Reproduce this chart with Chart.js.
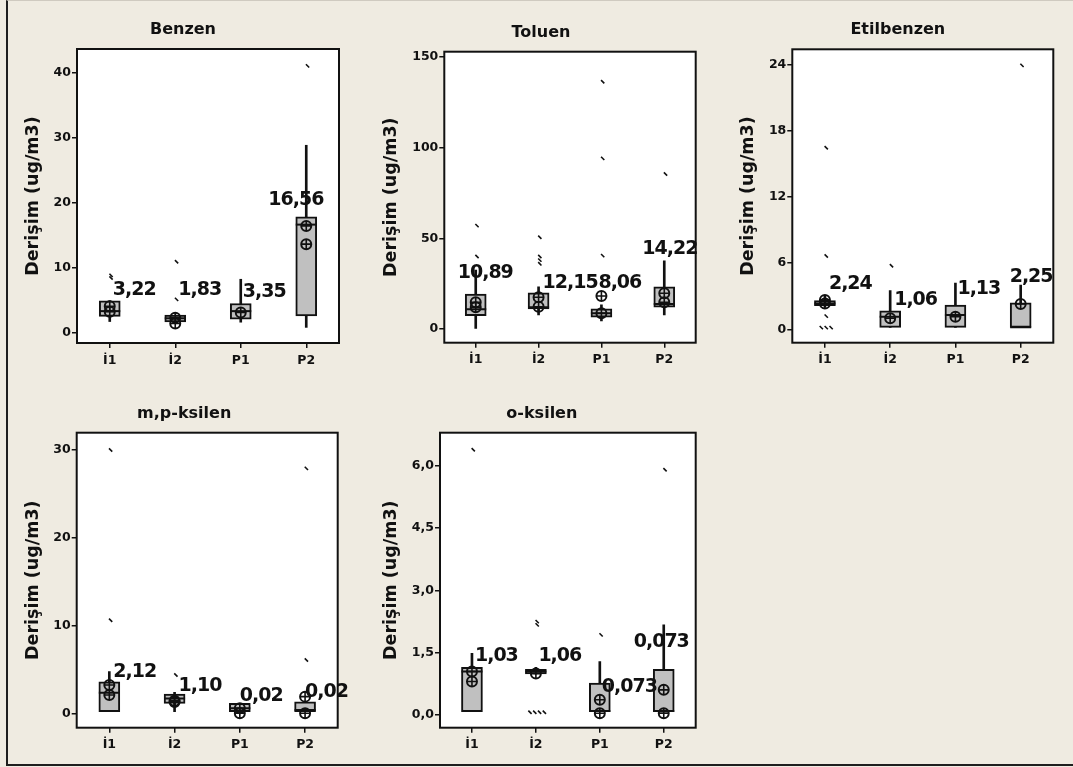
<!DOCTYPE html>
<html><head><meta charset="utf-8">
<script src="https://cdn.jsdelivr.net/npm/chart.js@4"></script>
<style>
html,body{margin:0;padding:0;background:#efebe1;width:1073px;height:767px;overflow:hidden;position:relative}
#frame{position:absolute;left:6px;top:0;width:1067px;height:766px;border-left:2px solid #1e1e1e;border-bottom:2px solid #1e1e1e;border-top:1px solid #cfcac0;box-sizing:border-box}
canvas{position:absolute}
</style></head><body><div id="frame"></div>
<script>
// ---------- DATA ----------
const categories = ['İ1', 'İ2', 'P1', 'P2'];

const benzenQ1 = [2.6, 1.75, 2.15, 2.66];
const benzenQ3 = [4.97, 2.8, 4.57, 17.9];
const benzenMedian = [3.4, 2.3, 3.4, 16.7];
const benzenWhiskerLow = [1.8, 1.5, 1.7, 0.9];
const benzenWhiskerHigh = [5.0, 2.8, 8.3, 28.9];
const benzenMeans = [[4.15, 3.3], [2.4, 1.5], [3.2], [16.5, 13.7]];
const benzenOutliers = [[8.9, 8.5], [11.0, 5.2], [], [41.1]];
const benzenTicks = [0, 10, 20, 30, 40];
const benzenLabels = ['3,22', '1,83', '3,35', '16,56'];

const toluenQ1 = [7.5, 11.2, 6.6, 12.1];
const toluenQ3 = [19.3, 20.1, 11.2, 23.4];
const toluenMedian = [11.0, 12.1, 8.8, 13.9];
const toluenWhiskerLow = [0, 7.9, 4.6, 7.9];
const toluenWhiskerHigh = [32.6, 23.4, 13.4, 37.6];
const toluenMeans = [[14.8, 12.1], [17.6, 12.4], [18.3, 8.8], [19.8, 14.8]];
const toluenOutliers = [[57, 40], [50.6, 40, 38, 36], [136.2, 94, 40.5], [85.4]];
const toluenTicks = [0, 50, 100, 150];
const toluenLabels = ['10,89', '12,15', '8,06', '14,22'];

const etilbenzenQ1 = [2.14, 0.18, 0.18, 0.18];
const etilbenzenQ3 = [2.6, 1.68, 2.2, 2.41];
const etilbenzenMedian = [2.35, 1.14, 1.3, 0.18];
const etilbenzenWhiskerLow = [2.0, 0.18, 0.18, 0.18];
const etilbenzenWhiskerHigh = [3.0, 3.5, 4.2, 4.0];
const etilbenzenMeans = [[2.65, 2.35], [1.0], [1.14], [2.29]];
const etilbenzenOutliers = [[16.45, 6.64, 1.2, 0.15, 0.15, 0.15], [5.76], [], [23.9]];
const etilbenzenTicks = [0, 6, 12, 18, 24];
const etilbenzenLabels = ['2,24', '1,06', '1,13', '2,25'];

const mpKsilenQ1 = [0.18, 1.14, 0.18, 0.18];
const mpKsilenQ3 = [3.6, 2.2, 1.14, 1.32];
const mpKsilenMedian = [2.35, 1.7, 0.57, 0.38];
const mpKsilenWhiskerLow = [0.18, 0.18, 0.18, 0.18];
const mpKsilenWhiskerHigh = [4.74, 2.4, 1.14, 1.32];
const mpKsilenMeans = [[3.22, 2.08], [1.44, 1.3], [0.57, 0.0], [1.9, 0.0]];
const mpKsilenOutliers = [[30.0, 10.6], [4.36], [], [27.9, 6.07]];
const mpKsilenTicks = [0, 10, 20, 30];
const mpKsilenLabels = ['2,12', '1,10', '0,02', '0,02'];

const oKsilenQ1 = [0.087, 0.99, 0.087, 0.087];
const oKsilenQ3 = [1.15, 1.1, 0.77, 1.1];
const oKsilenMedian = [1.05, 1.05, 0.1, 0.1];
const oKsilenWhiskerLow = [0.087, 0.99, 0.087, 0.087];
const oKsilenWhiskerHigh = [1.49, 1.15, 1.29, 2.17];
const oKsilenMeans = [[1.05, 0.81], [1.0], [0.37, 0.048], [0.61, 0.05]];
const oKsilenOutliers = [[6.38], [2.25, 2.17, 0.072, 0.072, 0.072, 0.072], [1.93], [5.9]];
const oKsilenTicks = [0, 1.5, 3, 4.5, 6];
const oKsilenLabels = ['1,03', '1,06', '0,073', '0,073'];

const yAxisTitle = 'Derişim (ug/m3)';

// ---------- LAYOUT ----------
const panels = [
  {title: 'Benzen', canvas: [0, 0, 360, 375], area: [77, 49, 339, 343], yMin: -1.5, yMax: 43.7, dec: 0,
   q1: benzenQ1, q3: benzenQ3, med: benzenMedian, lo: benzenWhiskerLow, hi: benzenWhiskerHigh,
   means: benzenMeans, out: benzenOutliers, ticks: benzenTicks, labels: benzenLabels,
   labelAt: [[3, 6.6], [3, 6.6], [2, 6.3], [-38, 20.5]], titleDx: -25, yTitleDx: -44},
  {title: 'Toluen', canvas: [360, 0, 360, 375], area: [84.3, 51.7, 335.7, 342.7], yMin: -7.4, yMax: 152.7, dec: 0,
   q1: toluenQ1, q3: toluenQ3, med: toluenMedian, lo: toluenWhiskerLow, hi: toluenWhiskerHigh,
   means: toluenMeans, out: toluenOutliers, ticks: toluenTicks, labels: toluenLabels,
   labelAt: [[-18, 30.8], [4, 25.3], [-3, 25.3], [-22, 44]], titleDx: -29, yTitleDx: -53},
  {title: 'Etilbenzen', canvas: [720, 0, 353, 375], area: [72.3, 49.3, 333.3, 342.7], yMin: -1.21, yMax: 25.36, dec: 0,
   q1: etilbenzenQ1, q3: etilbenzenQ3, med: etilbenzenMedian, lo: etilbenzenWhiskerLow, hi: etilbenzenWhiskerHigh,
   means: etilbenzenMeans, out: etilbenzenOutliers, ticks: etilbenzenTicks, labels: etilbenzenLabels,
   labelAt: [[4, 4.07], [4, 2.65], [2, 3.62], [-11, 4.7]], titleDx: -25, yTitleDx: -44},
  {title: 'm,p-ksilen', canvas: [0, 375, 360, 392], area: [76.7, 57.7, 337.7, 352.7], yMin: -1.64, yMax: 31.97, dec: 0,
   q1: mpKsilenQ1, q3: mpKsilenQ3, med: mpKsilenMedian, lo: mpKsilenWhiskerLow, hi: mpKsilenWhiskerHigh,
   means: mpKsilenMeans, out: mpKsilenOutliers, ticks: mpKsilenTicks, labels: mpKsilenLabels,
   labelAt: [[4, 4.67], [4, 3.1], [0, 1.97], [0, 2.46]], titleDx: -23, yTitleDx: -43.5},
  {title: 'o-ksilen', canvas: [360, 375, 360, 392], area: [80, 57.7, 335.7, 352.7], yMin: -0.3, yMax: 6.79, dec: 1,
   q1: oKsilenQ1, q3: oKsilenQ3, med: oKsilenMedian, lo: oKsilenWhiskerLow, hi: oKsilenWhiskerHigh,
   means: oKsilenMeans, out: oKsilenOutliers, ticks: oKsilenTicks, labels: oKsilenLabels,
   labelAt: [[3, 1.43], [2.5, 1.43], [2, 0.67], [-30, 1.77]], titleDx: -26, yTitleDx: -49}
];

const INK = '#111111';
Chart.defaults.font.family = "'DejaVu Sans', Verdana, sans-serif";
Chart.defaults.font.weight = 'bold';
Chart.defaults.color = INK;

function meanPoints(lists) {
  const pts = [];
  lists.forEach((vals, i) => vals.forEach(v => pts.push({x: i, y: v})));
  return pts;
}
function outlierPoints(lists) {
  const pts = [];
  lists.forEach((vals, i) => {
    const count = {};
    vals.forEach(v => { count[v] = (count[v] || 0) + 1; });
    const seen = {};
    vals.forEach(v => {
      const k = seen[v] || 0; seen[v] = k + 1;
      pts.push({x: i + 0.02 + (k - (count[v] - 1) / 2) * 0.075, y: v});
    });
  });
  return pts;
}

const panelPlugin = {
  id: 'panelDeco',
  beforeDraw(chart) {
    const {ctx, chartArea: a} = chart;
    ctx.save();
    ctx.fillStyle = '#ffffff';
    ctx.fillRect(a.left, a.top, a.right - a.left, a.bottom - a.top);
    ctx.restore();
  },
  afterDraw(chart) {
    const p = chart.options.plugins.panelDeco;
    const {ctx, chartArea: a} = chart;
    const xs = chart.scales.x, ys = chart.scales.y;
    ctx.save();
    ctx.strokeStyle = INK;
    ctx.lineWidth = 2;
    ctx.strokeRect(a.left, a.top, a.right - a.left, a.bottom - a.top);
    ctx.fillStyle = INK;
    // panel title
    ctx.font = "bold 16px 'DejaVu Sans'";
    ctx.textAlign = 'center';
    ctx.textBaseline = 'middle';
    ctx.fillText(p.title, (a.left + a.right) / 2 + p.titleDx, a.top - 19);
    // y axis title
    ctx.save();
    ctx.translate(a.left + p.yTitleDx, (a.top + a.bottom) / 2);
    ctx.rotate(-Math.PI / 2);
    ctx.font = "bold 17.5px 'DejaVu Sans'";
    ctx.fillText(yAxisTitle, 0, 0);
    ctx.restore();
    // value labels
    const hasLS = 'letterSpacing' in ctx;
    ctx.font = hasLS ? "bold 19px 'DejaVu Sans'" : "bold 17px 'DejaVu Sans'";
    if (hasLS) ctx.letterSpacing = '-1px';
    ctx.textAlign = 'left';
    p.labels.forEach((t, i) => {
      const [dx, v] = p.labelAt[i];
      ctx.fillText(t, xs.getPixelForValue(i) + dx, ys.getPixelForValue(v));
    });
    ctx.restore();
  }
};

panels.forEach(p => {
  const [cx, cy, W, H] = p.canvas;
  const [L, T, R, B] = p.area;
  const cv = document.createElement('canvas');
  cv.width = W; cv.height = H;
  cv.style.left = cx + 'px'; cv.style.top = cy + 'px';
  cv.style.width = W + 'px'; cv.style.height = H + 'px';
  document.body.appendChild(cv);

  const tickFont = {size: 12.5, weight: 'bold'};
  new Chart(cv, {
    type: 'bar',
    data: {
      datasets: [
        {type: 'bar', data: categories.map((c, i) => ({x: i, y: [p.lo[i], p.hi[i]]})),
         backgroundColor: INK, barThickness: 2, grouped: false, order: 6},
        {type: 'bar', data: categories.map((c, i) => ({x: i, y: [p.q1[i], p.q3[i]]})),
         backgroundColor: '#c0c0c0', borderColor: INK, borderWidth: 2, borderSkipped: false,
         barThickness: 21, grouped: false, order: 5},
        {type: 'scatter', data: categories.map((c, i) => ({x: i, y: p.med[i]})),
         pointStyle: 'line', pointRadius: 10.5, pointBorderWidth: 2, pointBorderColor: INK, order: 4},
        {type: 'scatter', data: meanPoints(p.means),
         pointStyle: 'circle', pointRadius: 5, pointBorderWidth: 2, pointBorderColor: INK,
         pointBackgroundColor: 'rgba(0,0,0,0)', order: 3},
        {type: 'scatter', data: meanPoints(p.means),
         pointStyle: 'cross', pointRadius: 5, pointBorderWidth: 1.6, pointBorderColor: INK, order: 2},
        {type: 'scatter', data: outlierPoints(p.out),
         pointStyle: 'line', pointRotation: 45, pointRadius: 2.3, pointBorderWidth: 1.6,
         pointBorderColor: INK, order: 1}
      ]
    },
    options: {
      responsive: false,
      animation: false,
      events: [],
      layout: {padding: {left: 0, top: T, right: W - R, bottom: 0}},
      plugins: {
        legend: {display: false},
        tooltip: {enabled: false},
        panelDeco: {title: p.title, titleDx: p.titleDx, yTitleDx: p.yTitleDx, labels: p.labels, labelAt: p.labelAt}
      },
      scales: {
        x: {
          type: 'linear', min: -0.5, max: 3.5, offset: false,
          afterBuildTicks: s => { s.ticks = categories.map((c, i) => ({value: i})); },
          afterFit: s => { s.height = H - B; },
          ticks: {callback: v => categories[v], font: tickFont, color: INK, padding: 5, autoSkip: false, maxRotation: 0},
          grid: {drawOnChartArea: false, drawTicks: true, tickLength: 5, color: INK, lineWidth: 1.5, offset: false},
          border: {display: false}
        },
        y: {
          type: 'linear', min: p.yMin, max: p.yMax,
          afterBuildTicks: s => { s.ticks = p.ticks.map(v => ({value: v})); },
          afterFit: s => { s.width = L; },
          ticks: {callback: v => v.toFixed(p.dec).replace('.', ','), font: tickFont, color: INK, padding: 1},
          grid: {drawOnChartArea: false, drawTicks: true, tickLength: 5, color: INK, lineWidth: 1.5},
          border: {display: false}
        }
      }
    },
    plugins: [panelPlugin]
  });
});
</script>
</body></html>
